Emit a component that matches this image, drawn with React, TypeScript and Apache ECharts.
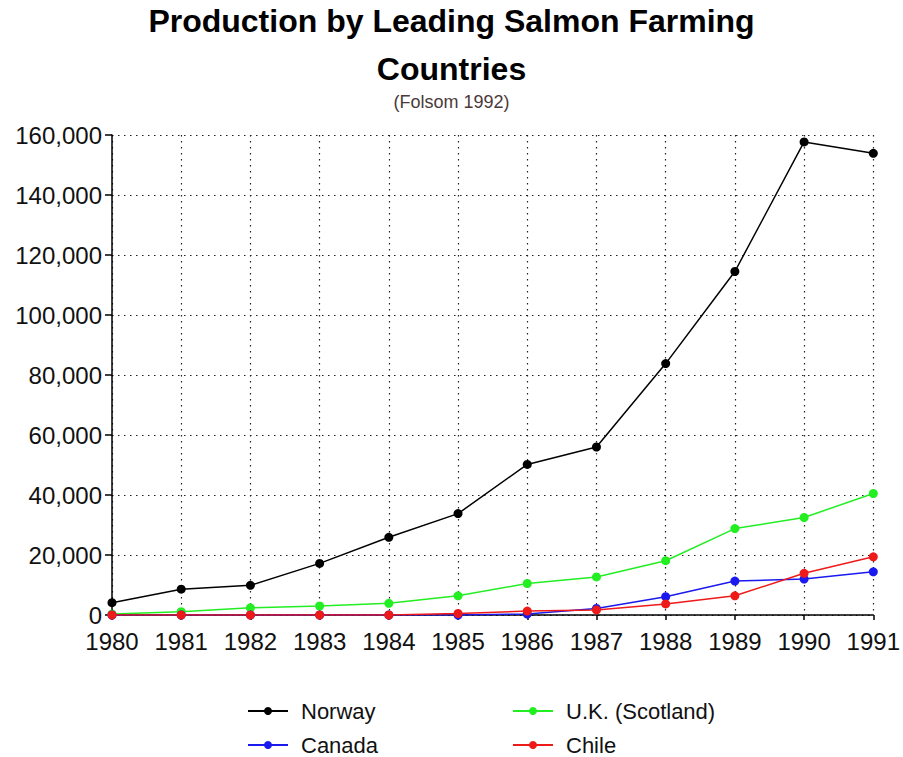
import React, { useEffect, useRef } from "react";
import * as echarts from "echarts";

const years = ["1980", "1981", "1982", "1983", "1984", "1985", "1986", "1987", "1988", "1989", "1990", "1991"];
const norway = [4100, 8600, 9900, 17200, 25900, 33800, 50200, 56000, 83800, 114500, 157700, 153900];
const ukScotland = [300, 1100, 2400, 3000, 3900, 6400, 10500, 12700, 18100, 28800, 32500, 40500];
const canada = [0, 0, 0, 0, 0, 0, 300, 2200, 6100, 11300, 12000, 14400];
const chile = [0, 0, 0, 0, 0, 500, 1300, 1700, 3700, 6400, 13900, 19400];

const FONT = "'Liberation Sans', Arial, sans-serif";

function mkSeries(name: string, data: number[], color: string, z: number) {
  return {
    name,
    type: "line",
    data,
    symbol: "circle",
    symbolSize: 9,
    z,
    lineStyle: { color, width: 1.5 },
    itemStyle: { color },
    emphasis: { disabled: true },
  };
}

export default function App() {
  const ref = useRef<HTMLDivElement>(null);
  useEffect(() => {
    if (!ref.current) return;
    const chart = echarts.init(ref.current, undefined, { renderer: "svg" });
    const legendText = { fontFamily: FONT, fontSize: 22, color: "#111", lineHeight: 20, padding: [0, 0, 0, 8] };
    const legendBase = {
      orient: "vertical",
      top: 700,
      height: 120,
      padding: 0,
      itemWidth: 40,
      itemHeight: 10,
      itemGap: 12,
      textStyle: legendText,
      selectedMode: false,
    };
    chart.setOption({
      animation: false,
      backgroundColor: "#ffffff",
      title: {
        text: "Production by Leading Salmon Farming\nCountries",
        subtext: "(Folsom 1992)",
        left: "center",
        top: -3,
        padding: 0,
        itemGap: 0,
        textStyle: { fontFamily: FONT, fontSize: 32, fontWeight: "bold", color: "#000", lineHeight: 48 },
        subtextStyle: { fontFamily: FONT, fontSize: 18, color: "#4a3a3a", lineHeight: 18 },
      },
      grid: { left: 112, right: 25, top: 135, bottom: 142, containLabel: false },
      legend: [
        { ...legendBase, data: ["Norway", "Canada"], left: 247 },
        { ...legendBase, data: ["U.K. (Scotland)", "Chile"], left: 512 },
      ],
      xAxis: {
        type: "category",
        data: years,
        boundaryGap: false,
        axisLine: { lineStyle: { color: "#000", width: 1.5 } },
        axisTick: { show: true, interval: 0, length: 5, lineStyle: { color: "#000", width: 1.5 } },
        axisLabel: { interval: 0, fontFamily: FONT, fontSize: 24, lineHeight: 20, color: "#111", margin: 16 },
        splitLine: { show: true, interval: 0, lineStyle: { color: "#222", width: 1.2, type: [1.5, 4.5] } },
      },
      yAxis: {
        type: "value",
        min: 0,
        max: 160000,
        interval: 20000,
        axisLine: { show: true, lineStyle: { color: "#000", width: 1.5 } },
        axisTick: { show: true, length: 7, lineStyle: { color: "#000", width: 1.5 } },
        axisLabel: {
          fontFamily: FONT,
          fontSize: 24,
          lineHeight: 20,
          color: "#111",
          margin: 10,
          formatter: (v: number) => v.toLocaleString("en-US"),
        },
        splitLine: { show: true, lineStyle: { color: "#222", width: 1.2, type: [1.5, 4.5] } },
      },
      series: [
        mkSeries("Norway", norway, "#000000", 4),
        mkSeries("U.K. (Scotland)", ukScotland, "#22ee22", 3),
        mkSeries("Canada", canada, "#1a1aee", 5),
        mkSeries("Chile", chile, "#ee1a1a", 6),
      ],
    });
    return () => chart.dispose();
  }, []);
  return <div ref={ref} style={{ width: 903, height: 757, position: "absolute", left: 0, top: 0 }} />;
}
